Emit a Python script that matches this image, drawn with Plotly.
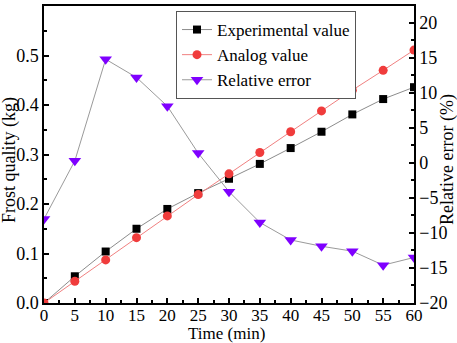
import plotly.graph_objects as go

time_min = [0, 5, 10, 15, 20, 25, 30, 35, 40, 45, 50, 55, 60]
experimental = [0.0, 0.054, 0.104, 0.150, 0.190, 0.222, 0.251, 0.281, 0.313, 0.346, 0.381, 0.412, 0.436]
analog = [0.0, 0.044, 0.087, 0.132, 0.176, 0.219, 0.261, 0.304, 0.346, 0.388, 0.430, 0.470, 0.511]
rel_error = [-8.0, 0.3, 14.8, 12.2, 8.1, 1.4, -4.1, -8.5, -11.0, -11.9, -12.6, -14.6, -13.5]

FONT = "Liberation Serif, Times New Roman, serif"
W, H = 457, 343
L, R, T, B = 44, 43, 6, 40
PW, PH = W - L - R, H - T - B


def px_x(px):
    return (px - L) / PW


def px_y(py):
    return (H - B - py) / PH


fig = go.Figure()
fig.add_trace(go.Scatter(
    x=time_min, y=experimental, name="Experimental value", mode="lines+markers",
    line=dict(color="#8c8c8c", width=1),
    marker=dict(symbol="square", size=8, color="#000000"),
))
fig.add_trace(go.Scatter(
    x=time_min, y=analog, name="Analog value", mode="lines+markers",
    line=dict(color="#f08080", width=1),
    marker=dict(symbol="circle", size=9, color="#f03c3c"),
))
fig.add_trace(go.Scatter(
    x=time_min, y=rel_error, name="Relative error", mode="lines+markers",
    line=dict(color="#9a9a9a", width=1),
    marker=dict(symbol="triangle-down", size=11, color="#7f00ff"),
    yaxis="y2",
))

axis_common = dict(
    showline=True, linecolor="black", linewidth=1.5,
    ticks="inside", ticklen=5, tickwidth=1.5, tickcolor="black",
    showgrid=False, zeroline=False, automargin=False,
)

fig.update_layout(
    width=W, height=H,
    margin=dict(l=L, r=R, t=T, b=B, autoexpand=False),
    paper_bgcolor="white", plot_bgcolor="white",
    font=dict(family=FONT, size=18, color="black"),
    showlegend=True,
    legend=dict(
        x=px_x(176), y=px_y(11), xanchor="left", yanchor="top",
        bordercolor="#555555", borderwidth=1, bgcolor="white",
        font=dict(family=FONT, size=17, color="black"),
        tracegroupgap=0, itemwidth=30,
    ),
    xaxis=dict(
        **axis_common, range=[0, 60], tickvals=list(range(0, 61, 5)),
        mirror=True, tickfont=dict(family=FONT, size=17, color="black"),
        ticklabelstandoff=-4,
        minor=dict(ticks="inside", ticklen=3, tickwidth=1.5, tickcolor="black", dtick=2.5),
    ),
    yaxis=dict(
        **axis_common, range=[0, 0.6], tickvals=[0, 0.1, 0.2, 0.3, 0.4, 0.5, 0.6],
        tickformat=".1f", tickfont=dict(family=FONT, size=18, color="black"),
        minor=dict(ticks="inside", ticklen=3, tickwidth=1.5, tickcolor="black", dtick=0.05),
    ),
    yaxis2=dict(
        **axis_common, overlaying="y", side="right", range=[-20, 22.4],
        tickvals=list(range(-20, 21, 5)), tickfont=dict(family=FONT, size=18, color="black"),
        minor=dict(ticks="inside", ticklen=3, tickwidth=1.5, tickcolor="black", dtick=2.5),
    ),
    annotations=[
        dict(text="Time (min)", xref="paper", yref="paper", x=px_x(226), y=px_y(333),
             xanchor="center", yanchor="middle", showarrow=False,
             font=dict(family=FONT, size=17, color="black")),
        dict(text="Frost quality (kg)", xref="paper", yref="paper", x=px_x(9), y=px_y(160),
             xanchor="center", yanchor="middle", showarrow=False, textangle=-90,
             font=dict(family=FONT, size=18, color="black")),
        dict(text="Relative error (%)", xref="paper", yref="paper", x=px_x(447), y=px_y(160),
             xanchor="center", yanchor="middle", showarrow=False, textangle=-90,
             font=dict(family=FONT, size=18, color="black")),
    ],
)

fig.write_html(
    "out.html",
    config={"displayModeBar": False},
    post_script="document.body.style.margin='0';document.body.style.overflow='hidden';",
)
